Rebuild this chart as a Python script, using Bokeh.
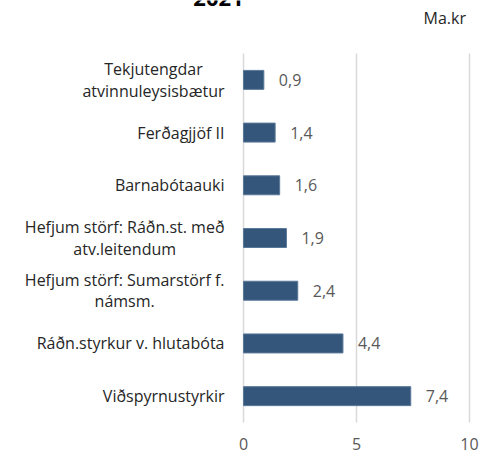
from bokeh.plotting import figure
from bokeh.models import ColumnDataSource, Range1d
from bokeh.embed import file_html
from bokeh.resources import INLINE
from bokeh.core.properties import value

categories = [
    "Tekjutengdar\natvinnuleysisbætur",
    "Ferðagjjöf II",
    "Barnabótaauki",
    "Hefjum störf: Ráðn.st. með\natv.leitendum",
    "Hefjum störf: Sumarstörf f.\nnámsm.",
    "Ráðn.styrkur v. hlutabóta",
    "Viðspyrnustyrkir",
]
values = [0.9, 1.4, 1.6, 1.9, 2.4, 4.4, 7.4]
value_labels = ["0,9", "1,4", "1,6", "1,9", "2,4", "4,4", "7,4"]
x_ticks = [0, 5, 10]
x_tick_labels = ["0", "5", "10"]
title_text = "2021"
unit_text = "Ma.kr"

FONT = "Open Sans"
FS = "16px"
W, H = 489, 454

n = len(categories)
ypos = [n - 0.5 - i for i in range(n)]  # first category at the top
src = ColumnDataSource(dict(cat=categories, val=values, lab=value_labels, y=ypos))

# pixel geometry of the category band
px_per_unit_x = 22.6
zero_px = 243
px_per_cat = 52.71
band_bottom = 422

p = figure(
    width=W, height=H,
    x_range=Range1d(-zero_px / px_per_unit_x, (W - zero_px) / px_per_unit_x),
    y_range=Range1d(-(H - band_bottom) / px_per_cat, band_bottom / px_per_cat),
    output_backend="svg", toolbar_location=None,
    min_border=0,
)
p.margin = (0, 0, 0, 0)
p.outline_line_color = None
p.background_fill_color = "white"
p.border_fill_color = "white"
p.xgrid.visible = False
p.ygrid.visible = False
p.yaxis.visible = False
p.xaxis.visible = False

# vertical grid lines at the tick values, over the category band only
p.segment(x0=x_ticks, x1=x_ticks, y0=[0] * len(x_ticks), y1=[n] * len(x_ticks),
          line_color="#d9d9d9", line_width=1.5)

p.hbar(y="y", right="val", height=0.36, source=src,
       fill_color="#34567A", line_color="#5a7898", line_width=1)

# x tick labels under the band
p.text(x=x_ticks, y=[-21 / px_per_cat] * len(x_ticks), text=x_tick_labels,
       text_align="center", text_baseline="middle",
       text_font=value(FONT), text_font_size=FS, text_color="#595959")

# category labels
p.text(x=0, y="y", text="cat", source=src, x_offset=-19,
       text_align="center", anchor="center_right", text_baseline="middle",
       text_font=value(FONT), text_font_size=FS, text_color="#262626",
       text_line_height=0.97)

# value labels
p.text(x="val", y="y", text="lab", source=src, x_offset=15,
       text_align="left", text_baseline="middle",
       text_font=value(FONT), text_font_size=FS, text_color="#595959")

# unit and (partly visible) title
p.text(x=[(423 - zero_px) / px_per_unit_x], y=[(band_bottom - 17) / px_per_cat],
       text=[unit_text], text_align="left", text_baseline="middle",
       text_font=value(FONT), text_font_size=FS, text_color="#262626")
p.text(x=[(218 - zero_px) / px_per_unit_x], y=[(band_bottom + 2.5) / px_per_cat],
       text=[title_text], text_align="center", text_baseline="alphabetic",
       text_font=value(FONT), text_font_size="22px", text_font_style="bold",
       text_color="#000000")

open("out.html", "w").write(file_html(p, INLINE))
